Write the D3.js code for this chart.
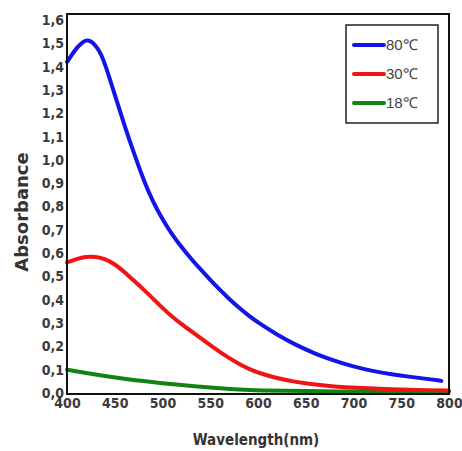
<!DOCTYPE html>
<html><head><meta charset="utf-8">
<script src="https://cdn.jsdelivr.net/npm/d3@7"></script>
<style>
body{margin:0;background:#fff;}
svg{display:block;}
.tick text{font-family:"DejaVu Sans Condensed","DejaVu Sans",sans-serif;font-weight:bold;font-size:14px;fill:#3a3a3a;}
</style></head><body>
<svg id="c" width="462" height="451"></svg>
<script>
const wl80 = [400,405,410,415,420,425,430,435,440,450,460,470,480,490,500,510,520,530,540,550,560,570,580,590,600,620,640,660,680,700,720,740,760,780,792];
const abs80 = [1.42,1.45,1.48,1.50,1.515,1.51,1.49,1.46,1.41,1.28,1.15,1.03,0.915,0.82,0.745,0.68,0.625,0.575,0.53,0.485,0.443,0.403,0.366,0.332,0.302,0.25,0.205,0.168,0.138,0.113,0.094,0.08,0.069,0.059,0.052];
const wl30 = [400,410,420,430,440,450,460,470,480,490,500,510,520,530,540,550,560,570,580,590,600,620,640,660,680,700,740,780,800];
const abs30 = [0.56,0.575,0.585,0.585,0.575,0.553,0.52,0.482,0.445,0.405,0.365,0.327,0.295,0.265,0.235,0.205,0.176,0.149,0.125,0.104,0.087,0.063,0.047,0.036,0.028,0.022,0.016,0.012,0.01];
const wl18 = [400,420,440,460,480,500,520,540,560,580,600,650,700,750,800];
const abs18 = [0.1,0.086,0.073,0.061,0.051,0.042,0.034,0.027,0.02,0.014,0.011,0.008,0.006,0.005,0.005];
const xTicks = [400,450,500,550,600,650,700,750,800];
const yTicks = [0,0.1,0.2,0.3,0.4,0.5,0.6,0.7,0.8,0.9,1.0,1.1,1.2,1.3,1.4,1.5,1.6];
const seriesNames = ["80℃","30℃","18℃"];
const seriesColors = ["#1414e6","#f01414","#128212"];

const svg = d3.select("#c");
const x = d3.scaleLinear().domain([400,800]).range([67,449]);
const y = d3.scaleLinear().domain([0,1.6]).range([393,20]);

const line = d3.line().x(d=>x(d[0])).y(d=>y(d[1])).curve(d3.curveBasis);
const data = [d3.zip(wl80,abs80), d3.zip(wl30,abs30), d3.zip(wl18,abs18)];

[2,1,0].forEach(i=>{
  svg.append("path").datum(data[i]).attr("d",line)
    .attr("fill","none").attr("stroke",seriesColors[i]).attr("stroke-width",4)
    .attr("stroke-linejoin","round").attr("stroke-linecap","round");
});

svg.append("rect").attr("x",67).attr("y",14).attr("width",382).attr("height",380)
  .attr("fill","none").attr("stroke","#111").attr("stroke-width",2);

const fmt = d => d3.format(".1f")(d).replace(".",",");
svg.append("g").attr("transform","translate(67,0)")
  .call(d3.axisLeft(y).tickValues(yTicks).tickFormat(fmt).tickSize(0).tickPadding(3))
  .call(g=>g.select(".domain").remove());
svg.append("g").attr("transform","translate(0,396)")
  .call(d3.axisBottom(x).tickValues(xTicks).tickFormat(d3.format("d")).tickSize(0).tickPadding(2))
  .call(g=>g.select(".domain").remove());

svg.append("text").attr("transform","translate(28,212) rotate(-90)")
  .attr("text-anchor","middle").attr("font-family","'DejaVu Sans',sans-serif")
  .attr("font-weight","bold").attr("font-size",18).attr("fill","#333").text("Absorbance");
svg.append("text").attr("x",256).attr("y",445)
  .attr("text-anchor","middle").attr("font-family","'DejaVu Sans Condensed','DejaVu Sans',sans-serif")
  .attr("font-weight","bold").attr("font-size",15).attr("fill","#333").text("Wavelength(nm)");

const lg = svg.append("g");
lg.append("rect").attr("x",346).attr("y",25).attr("width",92).attr("height",98)
  .attr("fill","#fff").attr("stroke","#222").attr("stroke-width",1.5);
seriesNames.forEach((n,i)=>{
  const yy = 45 + i*29;
  lg.append("line").attr("x1",354).attr("x2",384).attr("y1",yy).attr("y2",yy)
    .attr("stroke",seriesColors[i]).attr("stroke-width",4).attr("stroke-linecap","round");
  lg.append("text").attr("x",386).attr("y",yy+5).attr("font-family","'Liberation Sans',Arial,sans-serif")
    .attr("font-size",15).attr("fill","#444").text(n);
});
</script></body></html>
